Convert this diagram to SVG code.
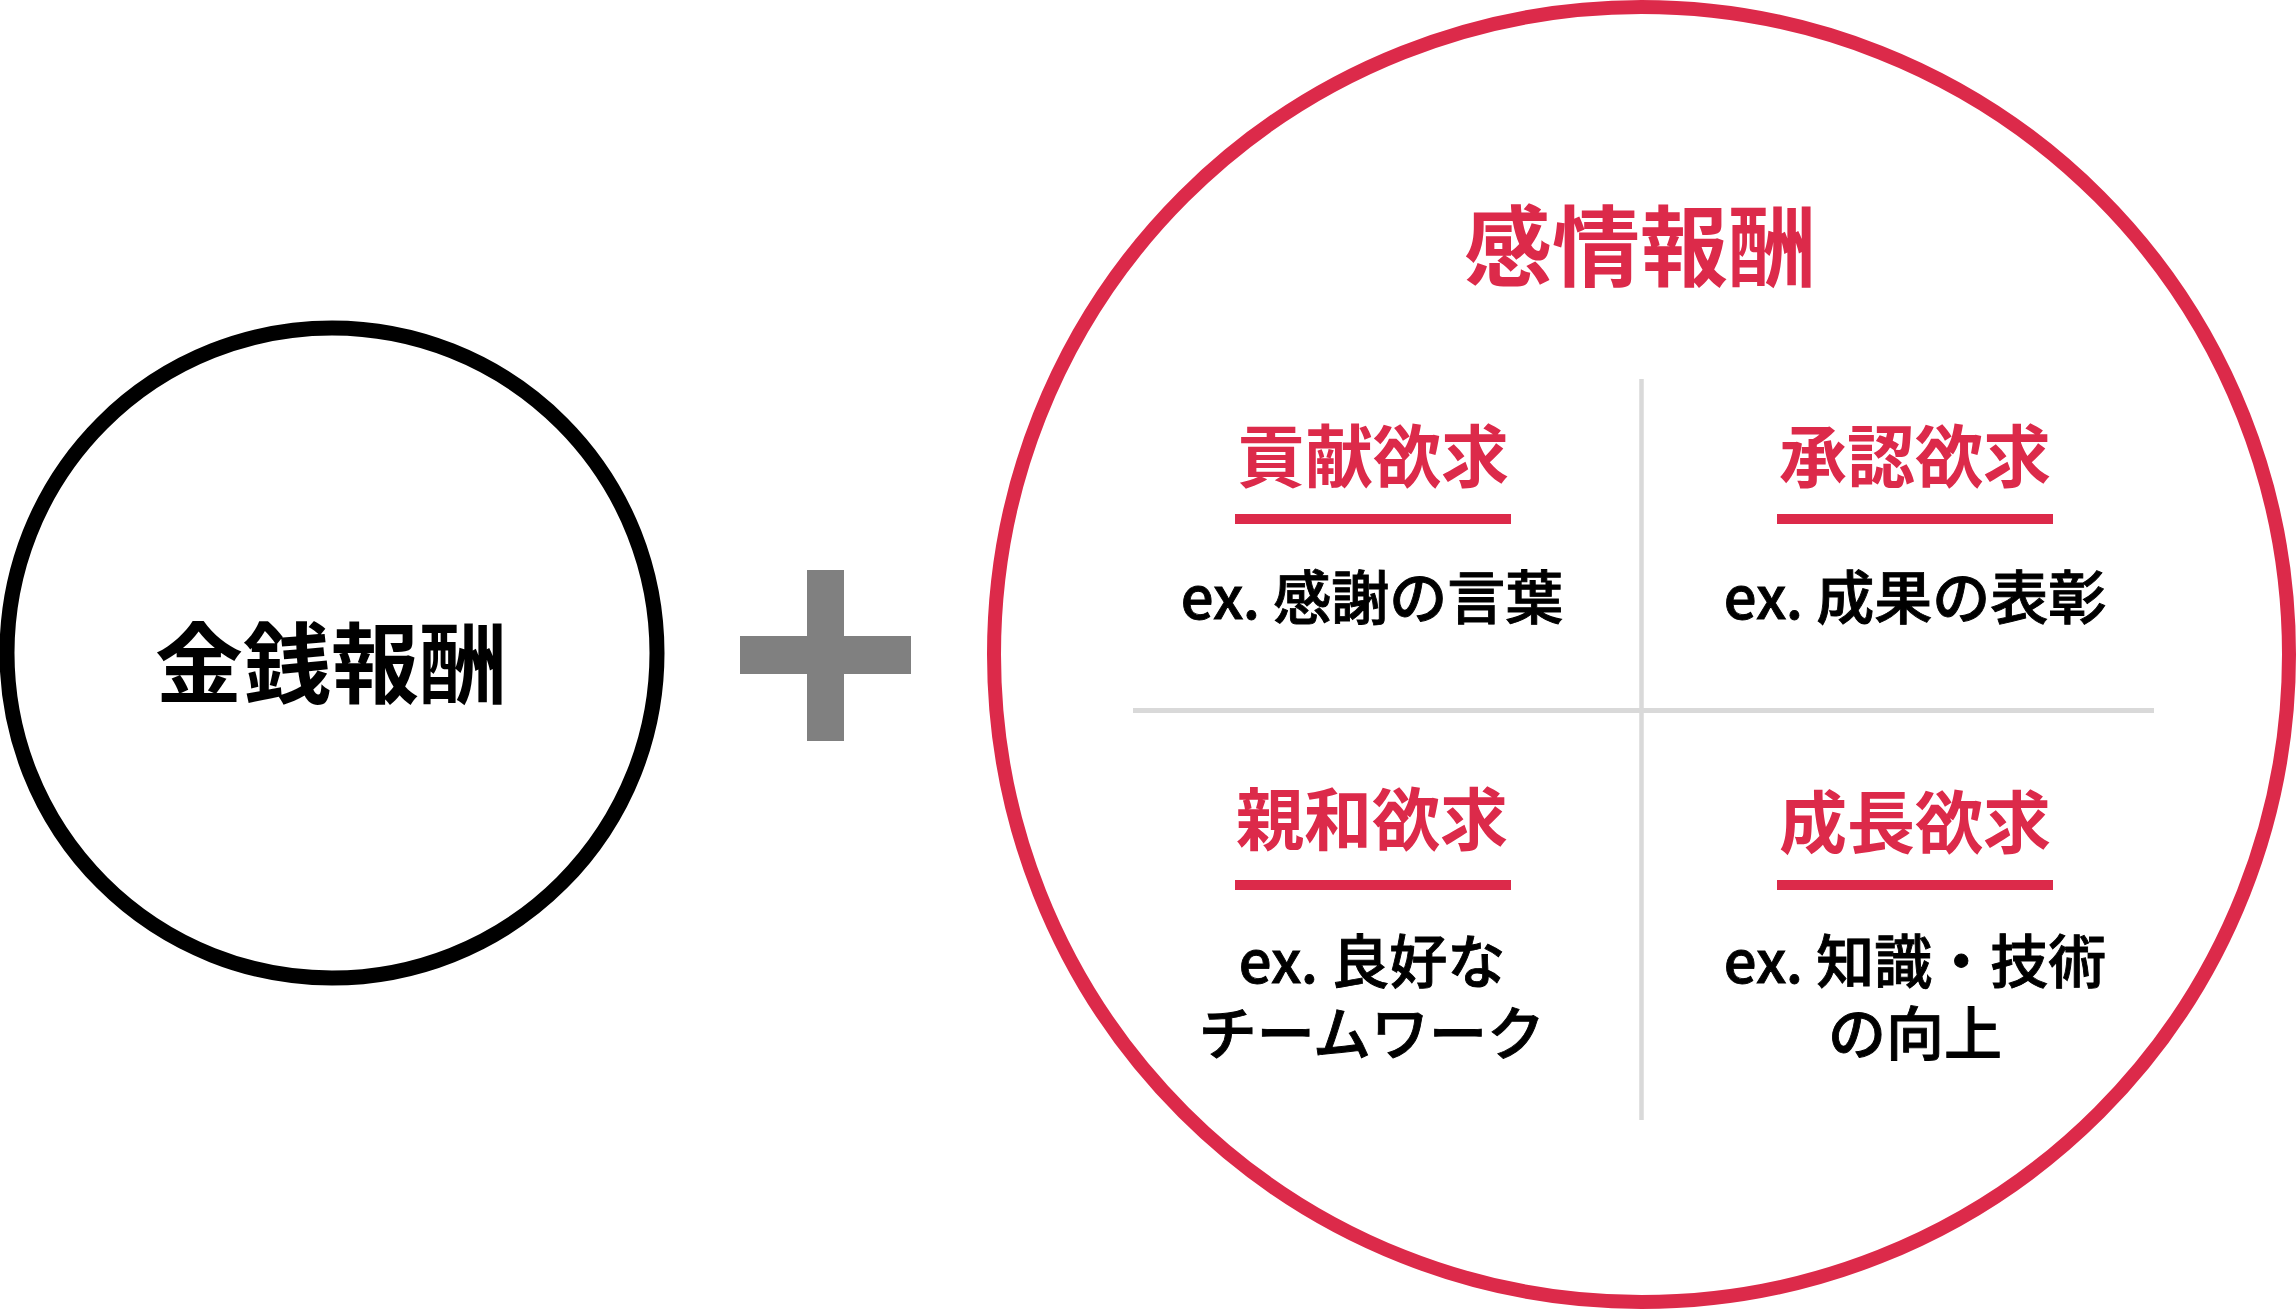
<svg xmlns="http://www.w3.org/2000/svg" width="2296" height="1310" viewBox="0 0 2296 1310">
<style>
.jp{font-family:"Noto Sans CJK JP","Noto Sans CJK SC",sans-serif;text-anchor:middle}
.big{font-size:88px;font-weight:700}
.head{font-size:68px;font-weight:700;fill:#dc2a4a}
.body{font-size:58px;font-weight:500;fill:#000;stroke:#000;stroke-width:0.9px}
.uline{fill:#dc2a4a}
.div{stroke:#d9d9d9;fill:none}
</style>
<rect width="2296" height="1310" fill="#fff"/>
<g id="money">
<circle cx="332" cy="653" r="325" fill="none" stroke="#000" stroke-width="15"/>
<text class="jp big" x="331" y="696" fill="#000">金銭報酬</text>
</g>
<g id="plus" fill="#808080">
<rect x="740" y="636" width="171" height="38"/>
<rect x="807" y="570" width="37" height="171"/>
</g>
<g id="emotional">
<circle cx="1641.5" cy="654.5" r="647.5" fill="none" stroke="#dc2a4a" stroke-width="14"/>
<text class="jp big" x="1640" y="279" fill="#dc2a4a">感情報酬</text>
</g>
<g id="dividers">
<line class="div" x1="1641.5" y1="379" x2="1641.5" y2="1120" stroke-width="4.5"/>
<line class="div" x1="1133" y1="710.5" x2="2154" y2="710.5" stroke-width="5"/>
</g>
<g id="contribution">
<text class="jp head" x="1373" y="482">貢献欲求</text>
<rect class="uline" x="1235" y="514" width="276" height="10"/>
<text class="jp body" x="1372" y="619">ex. 感謝の言葉</text>
</g>
<g id="recognition">
<text class="jp head" x="1915" y="482">承認欲求</text>
<rect class="uline" x="1777" y="514" width="276" height="10"/>
<text class="jp body" x="1915" y="619">ex. 成果の表彰</text>
</g>
<g id="affinity">
<text class="jp head" x="1372" y="845">親和欲求</text>
<rect class="uline" x="1235" y="880" width="276" height="10"/>
<text class="jp body" x="1372" y="983">ex. 良好な</text>
<text class="jp body" x="1372" y="1055">チームワーク</text>
</g>
<g id="growth">
<text class="jp head" x="1915" y="848">成長欲求</text>
<rect class="uline" x="1777" y="880" width="276" height="10"/>
<text class="jp body" x="1915" y="983">ex. 知識・技術</text>
<text class="jp body" x="1915" y="1055">の向上</text>
</g>
</svg>
